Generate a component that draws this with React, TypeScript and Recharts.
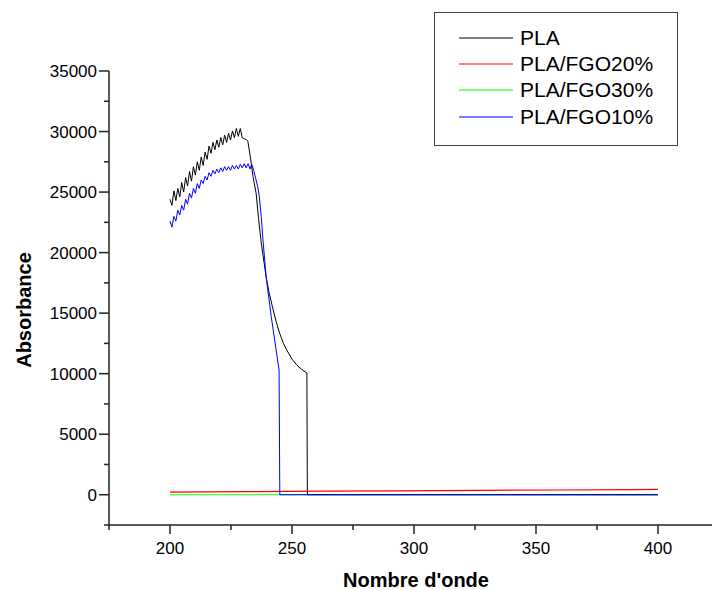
import React from 'react';
import { LineChart, Line, XAxis, YAxis } from 'recharts';

const FONT = "'Liberation Sans', Arial, sans-serif";

// tick positions (major ones get a label)
const xTicks = [175, 200, 225, 250, 275, 300, 325, 350, 375, 400, 425];
const yTicks = [-2500, 0, 2500, 5000, 7500, 10000, 12500, 15000, 17500, 20000, 22500, 25000, 27500, 30000, 32500, 35000];

const seriesNames = ['PLA', 'PLA/FGO20%', 'PLA/FGO30%', 'PLA/FGO10%'];
const seriesColors = ['#000000', '#ff0000', '#00ff00', '#0000ff'];

// PLA
const plaX = [
  200, 200.8, 201.6, 202.4, 203.2, 204, 204.8, 205.6, 206.4, 207.2, 208, 208.8, 209.6, 210.4, 211.2, 212,
  212.8, 213.6, 214.4, 215.2, 216, 216.8, 217.6, 218.4, 219.2, 220, 220.8, 221.6, 222.4, 223.2, 224, 224.8,
  225.6, 226.4, 227.2, 228, 228.8, 229.6, 230.4, 231.2, 231.9, 233, 234, 235.3, 236.3, 237.4, 239.4, 240.5,
  242, 243.5, 245, 246.5, 248, 250, 252, 254, 256.1, 256.3, 400,
];
const plaY = [
  24400, 23900, 25100, 24300, 25300, 24600, 25800, 25000, 26200, 25500, 26700, 25900, 27100, 26400, 27500, 26800,
  27900, 27200, 28300, 27700, 28800, 28200, 29100, 28500, 29300, 28700, 29500, 28900, 29700, 29100, 29850, 29300,
  30050, 29500, 30250, 29600, 30250, 29500, 29400, 29350, 29200, 27800, 26300, 24900, 22800, 20800, 18000, 16800,
  15500, 14300, 13300, 12500, 11900, 11200, 10700, 10350, 10050, 0, 0,
];

// PLA/FGO20%
const fgo20X = [200, 231, 262, 294, 325, 357, 388, 400];
const fgo20Y = [220, 250, 290, 320, 360, 390, 430, 440];

// PLA/FGO30%
const fgo30X = [200, 400];
const fgo30Y = [0, 0];

// PLA/FGO10%
const fgo10X = [
  200, 200.8, 201.6, 202.4, 203.2, 204, 204.8, 205.6, 206.4, 207.2, 208, 208.8, 209.6, 210.4, 211.2, 212,
  212.8, 213.6, 214.4, 215.2, 216, 216.8, 217.6, 218.4, 219.2, 220, 220.8, 221.6, 222.4, 223.2, 224, 224.8,
  225.6, 226.4, 227.2, 228, 228.8, 229.6, 230.4, 231.2, 232, 232.8, 233.5, 234.3, 236, 236.6, 237.4, 238,
  239.4, 241.5, 243.5, 244.7, 245, 400,
];
const fgo10Y = [
  22600, 22100, 23000, 22600, 23500, 23100, 23900, 23500, 24400, 24000, 24900, 24500, 25300, 24900, 25700, 25300,
  26000, 25700, 26300, 26000, 26600, 26300, 26800, 26500, 26900, 26600, 27000, 26700, 27100, 26800, 27100, 26800,
  27200, 26900, 27200, 26900, 27300, 27000, 27350, 27000, 27350, 26900, 27300, 26800, 25400, 24600, 23000, 21300,
  18000, 14700, 11950, 10300, 0, 0,
];

const toPoints = (xs: number[], ys: number[]) => xs.map((x, i) => ({ x, y: ys[i] }));

const plaData = toPoints(plaX, plaY);
const fgo20Data = toPoints(fgo20X, fgo20Y);
const fgo30Data = toPoints(fgo30X, fgo30Y);
const fgo10Data = toPoints(fgo10X, fgo10Y);

const XTick = (props: any) => {
  const { x, y, payload } = props;
  const major = payload.value % 50 === 0 && payload.value >= 200 && payload.value <= 400;
  return (
    <g>
      <line x1={x} x2={x} y1={y} y2={y + (major ? 9 : 5)} stroke="#222" strokeWidth={1.5} />
      {major && (
        <text x={x} y={y + 29} textAnchor="middle" fontSize={17} fontFamily={FONT} fill="#000">
          {payload.value}
        </text>
      )}
    </g>
  );
};

const YTick = (props: any) => {
  const { x, y, payload } = props;
  const major = payload.value % 5000 === 0;
  return (
    <g>
      <line x1={x - (major ? 10 : 5)} x2={x} y1={y} y2={y} stroke="#222" strokeWidth={1.5} />
      {major && (
        <text x={x - 12} y={y + 6} textAnchor="end" fontSize={17} fontFamily={FONT} fill="#000">
          {payload.value}
        </text>
      )}
    </g>
  );
};

export default function App() {
  const rowsY = [38, 64, 90, 117];
  return (
    <div style={{ position: 'absolute', left: 0, top: 0, width: 712, height: 590, overflow: 'hidden', background: '#fff' }}>
      <LineChart width={740} height={590} margin={{ top: 71, right: 21, bottom: 0, left: 0 }}>
        <XAxis
          dataKey="x"
          type="number"
          domain={[175, 425]}
          ticks={xTicks}
          interval={0}
          height={65}
          tickSize={0}
          tickMargin={0}
          tick={<XTick />}
          axisLine={{ stroke: '#222', strokeWidth: 1.5 }}
          allowDataOverflow
        />
        <YAxis
          type="number"
          domain={[-2500, 35000]}
          ticks={yTicks}
          interval={0}
          width={109}
          tickSize={0}
          tickMargin={0}
          tick={<YTick />}
          axisLine={{ stroke: '#222', strokeWidth: 1.5 }}
          allowDataOverflow
        />
        <Line data={fgo30Data} dataKey="y" name={seriesNames[2]} stroke={seriesColors[2]} strokeWidth={1.2} dot={false} isAnimationActive={false} />
        <Line data={fgo20Data} dataKey="y" name={seriesNames[1]} stroke={seriesColors[1]} strokeWidth={1.2} dot={false} isAnimationActive={false} />
        <Line data={plaData} dataKey="y" name={seriesNames[0]} stroke={seriesColors[0]} strokeWidth={1} dot={false} isAnimationActive={false} />
        <Line data={fgo10Data} dataKey="y" name={seriesNames[3]} stroke={seriesColors[3]} strokeWidth={1} dot={false} isAnimationActive={false} />
      </LineChart>

      <svg width={712} height={590} style={{ position: 'absolute', left: 0, top: 0, pointerEvents: 'none' }}>
        <text
          x={24}
          y={310}
          transform="rotate(-90 24 310)"
          textAnchor="middle"
          dominantBaseline="central"
          fontSize={20}
          fontWeight="bold"
          fontFamily={FONT}
        >
          Absorbance
        </text>
        <text x={416} y={587} textAnchor="middle" fontSize={20} fontWeight="bold" fontFamily={FONT}>
          Nombre d'onde
        </text>
        <rect x={434.5} y={12.5} width={243} height={133} fill="#fff" stroke="#444" strokeWidth={1} />
        {seriesNames.map((name, i) => (
          <g key={name}>
            <line x1={459} x2={513} y1={rowsY[i]} y2={rowsY[i]} stroke={seriesColors[i]} strokeWidth={1} />
            <text x={520} y={rowsY[i] + 7} fontSize={21} fontFamily={FONT} fill="#000">
              {name}
            </text>
          </g>
        ))}
      </svg>
    </div>
  );
}
